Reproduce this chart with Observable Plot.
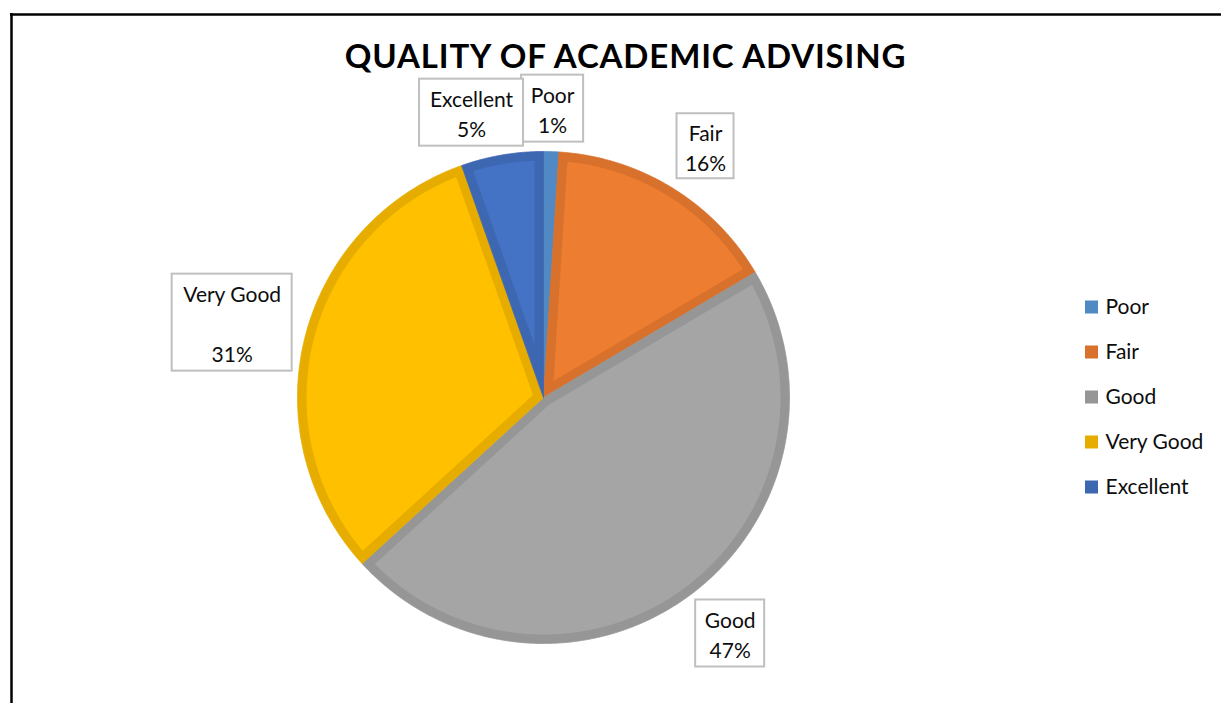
<!DOCTYPE html>
<html><head><meta charset="utf-8">
<script src="https://cdn.jsdelivr.net/npm/d3@7"></script>
<script src="https://cdn.jsdelivr.net/npm/@observablehq/plot@0.6"></script>
<style>body{margin:0;background:#fff;}</style>
</head><body><div id="chart"></div>
<script>
// ---- data ----
const title = "QUALITY OF ACADEMIC ADVISING";
const categories = ["Poor", "Fair", "Good", "Very Good", "Excellent"];
const values = [1.0, 15.5, 46.7, 31.4, 5.4];

// ---- styles ----
const fillColors = ["#5B9BD5", "#ED7D31", "#A5A5A5", "#FFC000", "#4472C4"];
const borderColors = ["#5089C3", "#D8712C", "#969696", "#E6AD00", "#3E67B1"];

// ---- layout ----
const W = 1221, H = 703;
const cx = 543, cy = 397, R = 246, bw = 9;
const labelDist = 290;
const labelNudge = {"Poor": [0, 1], "Fair": [10.5, -4], "Good": [14, 3], "Very Good": [-30, -4.5], "Excellent": [-23, 1]};
const labelBox = {"Poor": [62, 67], "Fair": [57, 65], "Good": [69, 67], "Very Good": [120, 97], "Excellent": [104, 67]};
const legendX = 1085, legendY0 = 307, legendStep = 45, legendSize = 13;

const total = d3.sum(values);
const arcs = d3.pie().sort(null).value(d => d)(values);
const pt = (a, r) => ({x: cx + r * Math.sin(a), y: cy - r * Math.cos(a)});
const step = Math.PI / 720;

function arcPoints(a0, a1, r) {
  const pts = [];
  const n = Math.max(2, Math.ceil((a1 - a0) / step));
  for (let i = 0; i <= n; i++) pts.push(pt(a0 + (a1 - a0) * i / n, r));
  return pts;
}

const marks = [];
// frame lines
marks.push(Plot.ruleY([{y: 14}], {y: "y", x1: 10, x2: W, stroke: "#000", strokeWidth: 2.5}));
marks.push(Plot.ruleX([{x: 11}], {x: "x", y1: 13, y2: H, stroke: "#000", strokeWidth: 2.5}));

arcs.forEach((a, i) => {
  const c = {x: cx, y: cy};
  const outer = [c, ...arcPoints(a.startAngle, a.endAngle, R), c];
  marks.push(Plot.line(outer, {x: "x", y: "y", fill: borderColors[i], stroke: borderColors[i], strokeWidth: 0.8, curve: "linear"}));
  const th = a.endAngle - a.startAngle;
  const rho = R - bw;
  const d = bw / Math.sin(th / 2);
  const delta = Math.asin(bw / rho);
  if (th > 2 * delta && d < rho) {
    const apex = pt((a.startAngle + a.endAngle) / 2, d);
    const inner = [apex, ...arcPoints(a.startAngle + delta, a.endAngle - delta, rho), apex];
    marks.push(Plot.line(inner, {x: "x", y: "y", fill: fillColors[i], stroke: "none", curve: "linear"}));
  }
});

// data labels
const labels = arcs.map((a, i) => {
  const cat = categories[i];
  const mid = (a.startAngle + a.endAngle) / 2;
  const p = pt(mid, labelDist);
  const [dx, dy] = labelNudge[cat];
  const [bwid, bht] = labelBox[cat];
  const pct = Math.round(values[i] / total * 100) + "%";
  const x = p.x + dx, y = p.y + dy;
  return {x, y, x1: x - bwid / 2, x2: x + bwid / 2, y1: y - bht / 2, y2: y + bht / 2,
          text: cat === "Very Good" ? cat + "\n\n" + pct : cat + "\n" + pct};
});
marks.push(Plot.rect(labels, {x1: "x1", x2: "x2", y1: "y1", y2: "y2", fill: "white", stroke: "#BFBFBF", strokeWidth: 2}));
marks.push(Plot.text(labels, {x: "x", y: "y", text: "text", fontSize: 21, lineHeight: 30 / 21, fill: "#0d0d0d"}));

// legend
const legend = categories.map((c, i) => ({c, i, y: legendY0 + i * legendStep}));
marks.push(Plot.rect(legend, {x1: legendX, x2: legendX + legendSize, y1: d => d.y - legendSize / 2, y2: d => d.y + legendSize / 2, fill: d => borderColors[d.i]}));
marks.push(Plot.text(legend, {x: legendX + legendSize + 7, y: "y", text: "c", textAnchor: "start", fontSize: 21, fill: "#0d0d0d"}));

// title
marks.push(Plot.text([title], {x: 625, y: 57, text: d => d, fontSize: 33, fontWeight: "bold", fill: "#000"}));

const chart = Plot.plot({
  width: W, height: H,
  margin: 0,
  x: {type: "linear", domain: [0, W], range: [0, W], axis: null},
  y: {type: "linear", domain: [0, H], range: [0, H], axis: null},
  style: {fontFamily: "Lato, 'Open Sans', sans-serif", background: "white", overflow: "visible"},
  marks
});
d3.select(chart).selectAll("text").filter(function () { return this.textContent === title; })
  .style("letter-spacing", "0.85px");
document.getElementById("chart").appendChild(chart);
</script>
</body></html>
